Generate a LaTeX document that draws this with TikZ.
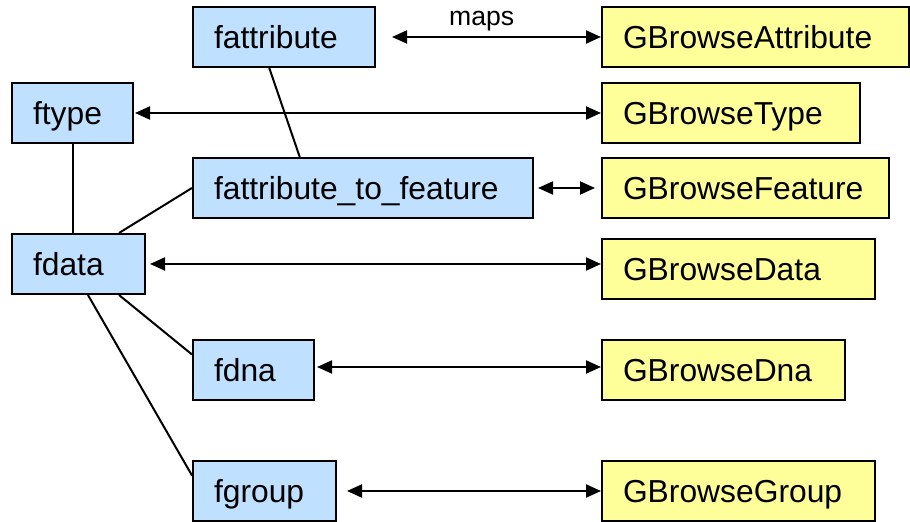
\documentclass[tikz,border=0pt]{standalone}
\usepackage{fontspec}
\setmainfont{Liberation Sans}
\usetikzlibrary{arrows.meta,calc}
\definecolor{dbblue}{RGB}{192,224,255}
\definecolor{gbyellow}{RGB}{255,255,153}
\tikzstyle{box}=[draw, line width=1pt, minimum height=30pt, inner xsep=10.5pt, text height=11.4pt, text depth=0pt, align=left, anchor=west, font=\fontsize{15.9}{19}\selectfont]
\tikzstyle{dbbox}=[box, fill=dbblue]
\tikzstyle{gbbox}=[box, fill=gbyellow]

\begin{document}
\begin{tikzpicture}[x=0.5pt, y=-0.5pt, line width=1pt, >={Triangle[length=7.5pt,width=6.5pt]}]
            \useasboundingbox (0,0) rectangle (910,522);
            \node [dbbox, text width=70pt] (fattr) at (192,37) {fattribute};
            \node [dbbox, text width=39.5pt] (ftype) at (11,113) {ftype};
            \node [dbbox, text width=149pt] (ftf) at (192,188) {fattribute\_to\_feature};
            \node [dbbox, text width=45.5pt] (fdata) at (11,264) {fdata};
            \node [dbbox, text width=39.5pt] (fdna) at (192,370) {fdna};
            \node [dbbox, text width=50.5pt] (fgroup) at (192,491) {fgroup};
            \node [gbbox, text width=132.5pt] (gattr) at (601,37) {GBrowseAttribute};
            \node [gbbox, text width=108pt] (gtype) at (601,113) {GBrowseType};
            \node [gbbox, text width=122.5pt] (gfeat) at (601,188) {GBrowseFeature};
            \node [gbbox, text width=115.5pt] (gdata) at (601,269) {GBrowseData};
            \node [gbbox, text width=100.5pt] (gdna) at (601,370) {GBrowseDna};
            \node [gbbox, text width=115.5pt] (ggroup) at (601,491) {GBrowseGroup};
            % table links
            \path ($(fattr.south west)!.42!(fattr.south east)$) edge ($(ftf.north west)!.315!(ftf.north east)$);
            \path (ftype.south) edge (ftype.south |- fdata.north);
            \path ($(fdata.north west)!.8!(fdata.north east)$) edge (ftf.west);
            \path ($(fdata.south west)!.8!(fdata.south east)$) edge ($(fdna.north west)!.25!(fdna.south west)$);
            \path ($(fdata.south west)!.57!(fdata.south east)$) edge ($(fgroup.north west)!.25!(fgroup.south west)$);
            % mappings
            \path[<->, shorten <=8pt] (fattr.east) edge node[pos=.47, above=2.5pt, inner sep=0pt, font=\fontsize{13.3}{16}\selectfont] {maps} (fattr.east -| gattr.west);
            \path[<->, shorten <=0.5pt] (ftype.east) edge (ftype.east -| gtype.west);
            \path[<->, shorten <=2pt, shorten >=3pt] (ftf.east) edge (ftf.east -| gfeat.west);
            \path[<->, shorten <=2pt] (fdata.east) edge (fdata.east -| gdata.west);
            \path[<->, shorten <=1pt] ([yshift=1.5pt]fdna.east) edge ([yshift=1.5pt]fdna.east -| gdna.west);
            \path[<->, shorten <=5pt] (fgroup.east) edge (fgroup.east -| ggroup.west);
        \end{tikzpicture}
\end{document}
